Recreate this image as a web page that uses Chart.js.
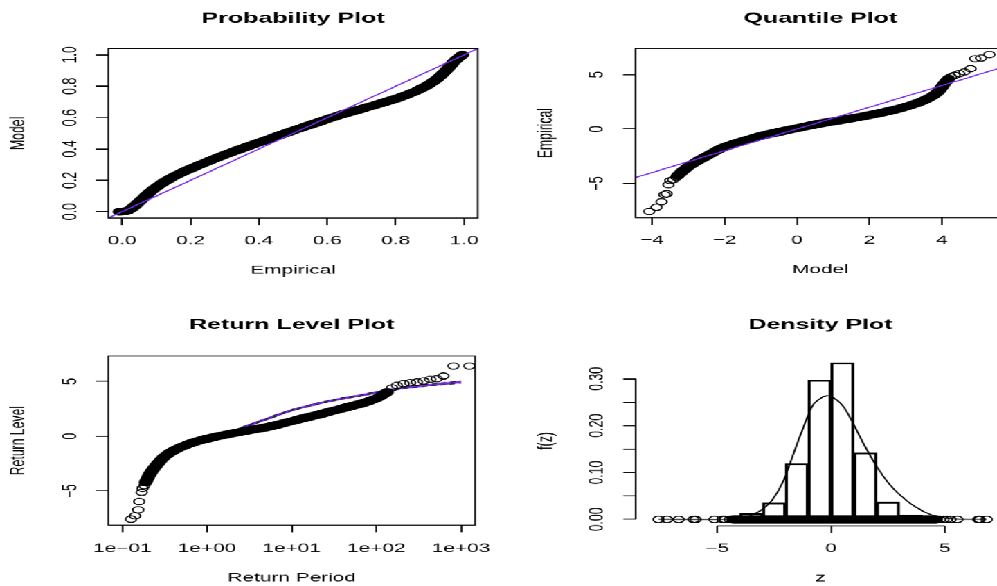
<!DOCTYPE html>
<html>
<head>
<meta charset="utf-8">
<title>fevd diagnostics</title>
<script src="https://cdn.jsdelivr.net/npm/chart.js@4.4.1/dist/chart.umd.min.js"></script>
<style>
  html, body { margin: 0; padding: 0; width: 997px; height: 586px; overflow: hidden; background: #fff; }
  /* the plot was drawn on a 480x480 device and stretched to 997x586 */
  #page { position: absolute; left: 0; top: 0; width: 480px; height: 480px; overflow: hidden;
          transform-origin: 0 0; transform: scale(2.0771, 1.2208); }
  .panel { position: absolute; }
</style>
</head>
<body>
<div id="page">
  <div class="panel"><canvas id="prob"></canvas></div>
  <div class="panel"><canvas id="quant"></canvas></div>
  <div class="panel"><canvas id="retlevel"></canvas></div>
  <div class="panel"><canvas id="density"></canvas></div>
</div>
<script>
// ---- data -------------------------------------------------------------

// Probability plot (empirical vs model probabilities)
const probEmpirical = [-0.008, 0.015, 0.034, 0.059, 0.083, 0.112, 0.147, 0.186, 0.235, 0.293, 0.362, 0.430,
                       0.499, 0.567, 0.635, 0.704, 0.772, 0.831, 0.880, 0.919, 0.948, 0.973, 0.995];
const probModel = [0.000, 0.006, 0.032, 0.081, 0.128, 0.175, 0.220, 0.261, 0.306, 0.357, 0.412, 0.464,
                   0.517, 0.566, 0.615, 0.658, 0.701, 0.744, 0.791, 0.844, 0.902, 0.962, 1.000];
const probRefLine = [-0.04, 1.04];
const probTicks = [0, 0.2, 0.4, 0.6, 0.8, 1.0];
const probTickLabels = ["0.0", "0.2", "0.4", "0.6", "0.8", "1.0"];

// observed z, sparse tails (shared by quantile and density plots)
const zLow = [-7.58, -7.20, -6.69, -6.04, -5.95, -5.12, -4.75, -4.66, -4.45];
const zHigh = [4.79, 4.94, 5.09, 5.25, 5.55, 6.47, 6.53, 6.84];

// Quantile plot
const qModelLow = [-4.08, -3.88, -3.74, -3.66, -3.60, -3.55, -3.50, -3.42, -3.33];
const qModelHigh = [4.25, 4.35, 4.48, 4.62, 4.79, 4.92, 5.08, 5.31];
const qModelBand = [-3.30, -3.15, -2.95, -2.70, -2.42, -2.15, -1.78, -1.32, -0.76, 0.00,
                    0.60, 1.20, 1.80, 2.40, 2.90, 3.35, 3.70, 3.90, 4.05, 4.18];
const qEmpBand = [-4.30, -3.85, -3.35, -2.85, -2.36, -1.86, -1.40, -0.93, -0.45, 0.08,
                  0.48, 0.82, 1.15, 1.55, 1.95, 2.42, 2.95, 3.45, 4.10, 4.62];
const qRefLine = [-5, 6];
const qXTicks = [-4, -2, 0, 2, 4];
const qXTickLabels = ["\u22124", "\u22122", "0", "2", "4"];
const levelTicks = [-5, 0, 5];
const levelTickLabels = ["\u22125", "0", "5"];

// Return level plot
const rlPeriodLow = [0.1265, 0.141, 0.154, 0.158, 0.169, 0.173, 0.182];
const rlLevelLow = [-7.56, -7.26, -6.71, -5.95, -5.12, -4.76, -4.51];
const rlPeriodBand = [0.188, 0.211, 0.254, 0.317, 0.416, 0.597, 0.938, 1.61, 3.03, 5.69, 10.7, 20.1, 37.8, 71.1, 102, 134];
const rlLevelBand = [-4.21, -3.45, -2.62, -1.83, -1.25, -0.73, -0.27, 0.12, 0.52, 0.91, 1.43, 1.95, 2.50, 3.05, 3.48, 4.02];
const rlPeriodHigh = [153, 175, 210, 251, 301, 361, 432, 518, 619, 813, 1253];
const rlLevelHigh = [4.42, 4.63, 4.79, 4.88, 4.94, 5.03, 5.18, 5.24, 5.49, 6.40, 6.40];
const rlModelPeriod = [0.2, 0.3, 0.6, 1.0, 1.6, 3.0, 5.7, 10.7, 20.1, 37.8, 71.1, 134, 251, 518, 1000];
const rlModelLevel = [-3.80, -2.00, -0.72, -0.20, 0.16, 0.95, 1.72, 2.44, 2.96, 3.41, 3.78, 4.18, 4.48, 4.73, 4.94];
const rlCiUpper = [-3.70, -1.92, -0.66, -0.15, 0.21, 1.01, 1.78, 2.50, 3.02, 3.47, 3.84, 4.25, 4.56, 4.82, 5.04];
const rlCiLower = [-3.90, -2.08, -0.78, -0.25, 0.11, 0.89, 1.66, 2.38, 2.90, 3.35, 3.72, 4.11, 4.40, 4.64, 4.84];
const periodTicks = [0.1, 1, 10, 100, 1000];
const periodTickLabels = ["1e\u221201", "1e+00", "1e+01", "1e+02", "1e+03"];

// Density plot
const histMid = [-3.5, -2.5, -1.5, -0.5, 0.5, 1.5, 2.5, 3.5];
const histDensity = [0.0128, 0.0349, 0.119, 0.2965, 0.334, 0.1418, 0.037, 0.0093];
const densZ = [-7.58, -4.5, -4.0, -3.6, -3.0, -2.56, -2.12, -1.68, -1.24, -0.81, -0.44, -0.19, 0.07,
               0.51, 0.95, 1.39, 1.98, 2.56, 3.15, 3.73, 4.32, 4.90, 5.50, 6.84];
const densF = [0, 0, 0.002, 0.007, 0.022, 0.043, 0.079, 0.136, 0.193, 0.243, 0.259, 0.264, 0.261,
               0.243, 0.207, 0.165, 0.115, 0.0755, 0.047, 0.026, 0.0114, 0.004, 0.0005, 0];
const zTicks = [-5, 0, 5];
const zTickLabels = ["\u22125", "0", "5"];
const fTicks = [0, 0.05, 0.10, 0.15, 0.20, 0.25, 0.30];
const fTickLabels = ["0.00", "", "0.10", "", "0.20", "", "0.30"];

// ---- look -------------------------------------------------------------

const FONT = '"Liberation Sans", Arial, Helvetica, sans-serif';
const PURPLE = "#7828f0";
const TICK = 6, LW = 0.8, PAD_R = 14, DPR = 2.2;
const BAND = 6.6, DOT = 2.6;

Chart.defaults.font.family = FONT;
Chart.defaults.color = "#000";

// plot regions and text centres, in 480x480 device units
const LAYOUT = {
  prob:     { L: 52.1,  R: 229.5, T: 40.1,  B: 178.3, title: 15.6,  xTick: 197.1, xTitle: 220.9, yTick: 34.1,  yTitle: 9.0 },
  quant:    { L: 306.2, R: 484.2, T: 40.1,  B: 178.3, title: 15.6,  xTick: 197.1, xTitle: 221.3, yTick: 287.8, yTitle: 263.3 },
  retlevel: { L: 52.1,  R: 229.5, T: 291.6, B: 429.8, title: 266.2, xTick: 449.2, xTitle: 472.9, yTick: 34.1,  yTitle: 9.0 },
  density:  { L: 306.3, R: 484.2, T: 291.6, B: 430.3, title: 266.2, xTick: 449.2, xTitle: 472.9, yTick: 287.8, yTitle: 263.3 },
};

const pts = (xs, ys) => xs.map((x, i) => ({ x, y: ys[i] }));

const measureCtx = document.createElement("canvas").getContext("2d");
measureCtx.font = `10px ${FONT}`;
const widest = (labels) => Math.max(...labels.map((s) => measureCtx.measureText(s).width));

// box round the plot region, or R-style axis lines spanning the ticks
const rFrame = {
  id: "rFrame",
  afterDatasetsDraw(chart, args, opts) {
    const { ctx, chartArea: a, scales } = chart;
    ctx.save();
    ctx.strokeStyle = "#000";
    ctx.lineWidth = LW;
    if (opts.box) ctx.strokeRect(a.left, a.top, a.width, a.height);
    if (opts.axes) {
      const xt = scales.x.ticks, yt = scales.y.ticks;
      ctx.beginPath();
      ctx.moveTo(scales.x.getPixelForValue(xt[0].value), a.bottom);
      ctx.lineTo(scales.x.getPixelForValue(xt[xt.length - 1].value), a.bottom);
      ctx.moveTo(a.left, scales.y.getPixelForValue(yt[0].value));
      ctx.lineTo(a.left, scales.y.getPixelForValue(yt[yt.length - 1].value));
      ctx.stroke();
    }
    ctx.restore();
  },
};

function axis(o) {
  return {
    type: o.type || "linear",
    min: o.min,
    max: o.max,
    offset: false,
    afterBuildTicks: (s) => { s.ticks = o.ticks.map((v) => ({ value: v })); },
    afterFit: (s) => {
      if (o.w) s.width = o.w;
      if (o.h) s.height = o.h;
    },
    ticks: {
      callback: (v, i) => o.labels[i],
      autoSkip: false,
      minRotation: o.rot,
      maxRotation: o.rot,
      crossAlign: o.cross,
      padding: o.pad,
      color: "#000",
      font: { size: 10 },
    },
    grid: { display: true, drawOnChartArea: false, drawTicks: true, tickLength: TICK, color: "#000", lineWidth: LW, offset: false },
    border: { display: false },
    title: { display: true, text: o.title, color: "#000", font: { size: 10 }, padding: 0 },
  };
}

function build(id, spec) {
  const g = LAYOUT[id];
  const canvas = document.getElementById(id);
  const left = g.yTitle - 6;
  const top = g.title - 7.2;
  Object.assign(canvas.parentNode.style, {
    left: left + "px",
    top: top + "px",
    width: g.R + PAD_R - left + "px",
    height: g.xTitle + 6 - top + "px",
  });

  return new Chart(canvas, {
    type: spec.type,
    data: { datasets: spec.datasets },
    plugins: [rFrame],
    options: {
      responsive: true,
      maintainAspectRatio: false,
      animation: false,
      events: [],
      devicePixelRatio: DPR,
      layout: { padding: { left: 0, top: 0, right: PAD_R, bottom: 0 } },
      plugins: {
        legend: { display: false },
        tooltip: { enabled: false },
        title: {
          display: true,
          text: spec.title,
          fullSize: false,
          color: "#000",
          font: { size: 12, weight: "bold" },
          padding: { top: 0, bottom: g.T - g.title - 7.2 },
        },
        rFrame: spec.frame,
      },
      scales: {
        x: axis({ ...spec.x, rot: 0, cross: "near", pad: g.xTick - g.B - TICK - 6, h: g.xTitle + 6 - g.B }),
        y: axis({ ...spec.y, rot: 90, cross: "center", pad: g.L - g.yTick - TICK - widest(spec.y.labels) / 2, w: g.L - left }),
      },
    },
  });
}

const band = (data) => ({
  type: "line", data, showLine: true, borderColor: "#000", borderWidth: BAND, pointRadius: 0,
  tension: 0.3, borderCapStyle: "round", borderJoinStyle: "round", fill: false,
});
const circles = (data) => ({
  type: "scatter", data, showLine: false, pointRadius: DOT, borderWidth: 0.75, pointBorderWidth: 0.75,
  pointBorderColor: "#000", pointBackgroundColor: "rgba(0,0,0,0)",
});
const thin = (data, color, width, dash) => ({
  type: "line", data, showLine: true, borderColor: color, borderWidth: width, borderDash: dash || [],
  pointRadius: 0, tension: 0.3, fill: false,
});

// ---- charts -----------------------------------------------------------

build("prob", {
  type: "scatter",
  title: "Probability Plot",
  frame: { box: true },
  x: { min: -0.04, max: 1.04, ticks: probTicks, labels: probTickLabels, title: "Empirical" },
  y: { min: -0.04, max: 1.04, ticks: probTicks, labels: probTickLabels, title: "Model" },
  datasets: [
    thin(pts(probRefLine, probRefLine), PURPLE, 0.9),
    band(pts(probEmpirical, probModel)),
  ],
});

build("quant", {
  type: "scatter",
  title: "Quantile Plot",
  frame: { box: true },
  x: { min: -4.46, max: 5.75, ticks: qXTicks, labels: qXTickLabels, title: "Model" },
  y: { min: -8.14, max: 7.40, ticks: levelTicks, labels: levelTickLabels, title: "Empirical" },
  datasets: [
    thin(pts(qRefLine, qRefLine), PURPLE, 0.9),
    band(pts(qModelBand, qEmpBand)),
    circles(pts(qModelLow, zLow)),
    circles(pts(qModelHigh, zHigh)),
  ],
});

build("retlevel", {
  type: "scatter",
  title: "Return Level Plot",
  frame: { box: true },
  x: { type: "logarithmic", min: 0.0685, max: 1460, ticks: periodTicks, labels: periodTickLabels, title: "Return Period" },
  y: { min: -8.11, max: 7.31, ticks: levelTicks, labels: levelTickLabels, title: "Return Level" },
  datasets: [
    circles(pts(rlPeriodLow, rlLevelLow)),
    circles(pts(rlPeriodHigh, rlLevelHigh)),
    band(pts(rlPeriodBand, rlLevelBand)),
    thin(pts(rlModelPeriod, rlCiUpper), "#222", 0.7, [2.5, 2]),
    thin(pts(rlModelPeriod, rlCiLower), "#222", 0.7, [2.5, 2]),
    thin(pts(rlModelPeriod, rlModelLevel), PURPLE, 1.8),
  ],
});

build("density", {
  type: "bar",
  title: "Density Plot",
  frame: { axes: true },
  x: { min: -8.58, max: 7.655, ticks: zTicks, labels: zTickLabels, title: "z" },
  y: { min: -0.0136, max: 0.3486, ticks: fTicks, labels: fTickLabels, title: "f(z)" },
  datasets: [
    band(pts([qEmpBand[0], qEmpBand[qEmpBand.length - 1]], [0, 0])),
    circles(pts(zLow, zLow.map(() => 0))),
    circles(pts(zHigh, zHigh.map(() => 0))),
    thin(pts(densZ, densF), "#000", 0.85),
    {
      type: "bar",
      data: pts(histMid, histDensity),
      backgroundColor: "rgba(0,0,0,0)",
      borderColor: "#000",
      borderWidth: LW,
      borderSkipped: false,
      barPercentage: 1,
      categoryPercentage: 1,
    },
  ],
});
</script>
</body>
</html>
